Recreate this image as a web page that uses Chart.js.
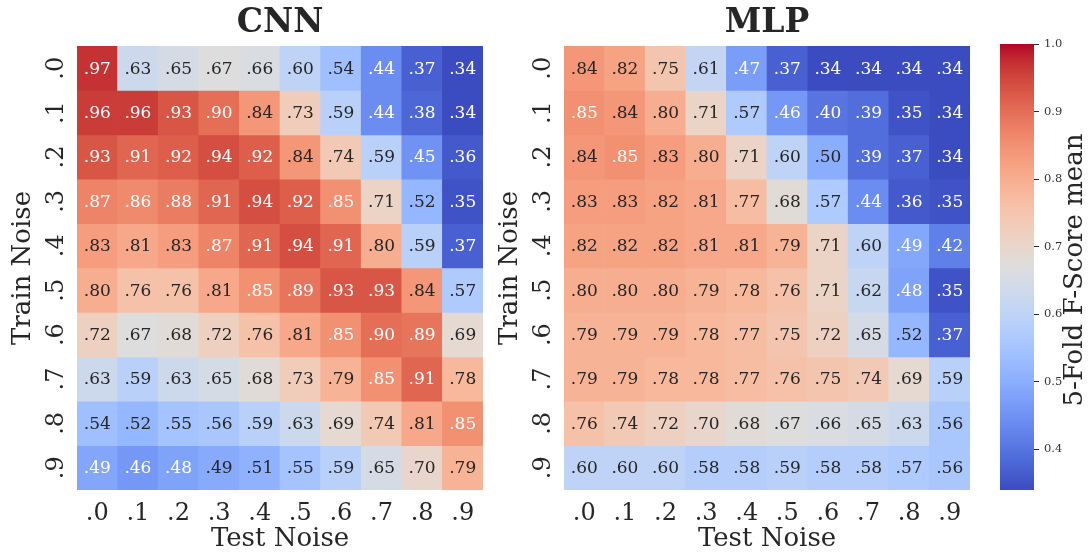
<!DOCTYPE html>
<html>
<head>
<meta charset="utf-8">
<script src="https://cdn.jsdelivr.net/npm/chart.js@4/dist/chart.umd.min.js"></script>
<style>
  html, body { margin: 0; padding: 0; background: #ffffff; }
  #wrap { position: relative; width: 1089px; height: 552px; overflow: hidden; background: #ffffff; }
  #wrap canvas { position: absolute; top: 0; }
</style>
</head>
<body>
<div id="wrap">
  <canvas id="cnn" width="500" height="552" style="left:0px"></canvas>
  <canvas id="mlp" width="500" height="552" style="left:487px"></canvas>
  <canvas id="cbar" width="99" height="552" style="left:990px"></canvas>
</div>
<script>
// Noise levels used for training (rows) and testing (columns)
const trainNoise = ['.0', '.1', '.2', '.3', '.4', '.5', '.6', '.7', '.8', '.9'];
const testNoise  = ['.0', '.1', '.2', '.3', '.4', '.5', '.6', '.7', '.8', '.9'];

// 5-fold mean F-score, one row per training noise level
const cnnScores = [
  [0.97, 0.63, 0.65, 0.67, 0.66, 0.60, 0.54, 0.44, 0.37, 0.34],
  [0.96, 0.96, 0.93, 0.90, 0.84, 0.73, 0.59, 0.44, 0.38, 0.34],
  [0.93, 0.91, 0.92, 0.94, 0.92, 0.84, 0.74, 0.59, 0.45, 0.36],
  [0.87, 0.86, 0.88, 0.91, 0.94, 0.92, 0.85, 0.71, 0.52, 0.35],
  [0.83, 0.81, 0.83, 0.87, 0.91, 0.94, 0.91, 0.80, 0.59, 0.37],
  [0.80, 0.76, 0.76, 0.81, 0.85, 0.89, 0.93, 0.93, 0.84, 0.57],
  [0.72, 0.67, 0.68, 0.72, 0.76, 0.81, 0.85, 0.90, 0.89, 0.69],
  [0.63, 0.59, 0.63, 0.65, 0.68, 0.73, 0.79, 0.85, 0.91, 0.78],
  [0.54, 0.52, 0.55, 0.56, 0.59, 0.63, 0.69, 0.74, 0.81, 0.85],
  [0.486, 0.46, 0.48, 0.493, 0.51, 0.55, 0.59, 0.65, 0.70, 0.79]
];

const mlpScores = [
  [0.84, 0.82, 0.75, 0.61, 0.47, 0.37, 0.34, 0.34, 0.34, 0.34],
  [0.85, 0.84, 0.80, 0.71, 0.57, 0.46, 0.40, 0.39, 0.35, 0.34],
  [0.84, 0.85, 0.83, 0.80, 0.71, 0.60, 0.50, 0.39, 0.37, 0.34],
  [0.83, 0.83, 0.82, 0.81, 0.77, 0.68, 0.57, 0.44, 0.36, 0.35],
  [0.82, 0.82, 0.82, 0.81, 0.81, 0.79, 0.71, 0.60, 0.487, 0.42],
  [0.80, 0.80, 0.80, 0.79, 0.78, 0.76, 0.71, 0.62, 0.48, 0.35],
  [0.79, 0.79, 0.79, 0.78, 0.77, 0.75, 0.72, 0.65, 0.52, 0.37],
  [0.79, 0.79, 0.78, 0.78, 0.77, 0.76, 0.75, 0.74, 0.69, 0.59],
  [0.76, 0.74, 0.72, 0.70, 0.68, 0.67, 0.66, 0.65, 0.63, 0.56],
  [0.60, 0.60, 0.60, 0.58, 0.58, 0.59, 0.58, 0.58, 0.57, 0.56]
];

// Colour bar tick values
const colorbarTicks = [0.4, 0.5, 0.6, 0.7, 0.8, 0.9, 1.0];

const scoreMin = Math.min(...cnnScores.flat(), ...mlpScores.flat());
const scoreMax = 1.0;

const ink = '#262626';
const serif = "'DejaVu Serif', 'Liberation Serif', serif";
Chart.defaults.font.family = serif;

// Diverging blue-white-red colour map (coolwarm), 33 evenly spaced stops
const coolwarm = [
  [0.2298057, 0.298717966, 0.753683153], [0.26623388, 0.353094838, 0.801466763],
  [0.30386891, 0.406535296, 0.84495867], [0.342804478, 0.458757618, 0.883725899],
  [0.38301334, 0.50941904, 0.917387822], [0.424369608, 0.558148092, 0.945619588],
  [0.46666708, 0.604562568, 0.968154911], [0.509635204, 0.648280772, 0.98478814],
  [0.552953156, 0.688929332, 0.995375608], [0.596262162, 0.726149107, 0.999836203],
  [0.639176211, 0.759599947, 0.998151185], [0.681291281, 0.788964712, 0.990363227],
  [0.722193294, 0.813952739, 0.976574709], [0.761464949, 0.834302879, 0.956945269],
  [0.798691636, 0.849786142, 0.931688648], [0.833466556, 0.860207984, 0.901068838],
  [0.865395197, 0.86541021, 0.865395561], [0.897787179, 0.848937047, 0.820880546],
  [0.924127593, 0.827384882, 0.774508472], [0.944468518, 0.800927443, 0.726736146],
  [0.958852946, 0.769767752, 0.678007945], [0.96732803, 0.734132809, 0.628751763],
  [0.969954137, 0.694266682, 0.579375448], [0.966811177, 0.650421156, 0.530263762],
  [0.958003065, 0.602842431, 0.481775914], [0.943660866, 0.551750968, 0.434243684],
  [0.923944917, 0.49730856, 0.387970225], [0.89904617, 0.439559467, 0.343229596],
  [0.869186849, 0.378313092, 0.300267182], [0.834620542, 0.312874446, 0.259301199],
  [0.795631745, 0.24128379, 0.220525627], [0.752534934, 0.157246067, 0.184115123],
  [0.705673158, 0.01555616, 0.150232812]
];

function mapColor(t) {
  t = Math.max(0, Math.min(1, t));
  const pos = t * (coolwarm.length - 1);
  const i = Math.min(Math.floor(pos), coolwarm.length - 2);
  const f = pos - i;
  const a = coolwarm[i], b = coolwarm[i + 1];
  const c = a.map((v, k) => Math.round((v + (b[k] - v) * f) * 255));
  return `rgb(${c[0]},${c[1]},${c[2]})`;
}

function scoreColor(v) {
  return mapColor((v - scoreMin) / (scoreMax - scoreMin));
}

// Light text on the saturated ends of the map, dark text elsewhere
function textColor(v) {
  return (v >= 0.845 || v < 0.49) ? '#ffffff' : ink;
}

function fmt(v) {
  return v.toFixed(2).replace(/^0/, '');
}

// Writes each cell's score in the middle of its bar
const cellLabels = {
  id: 'cellLabels',
  afterDatasetsDraw(chart) {
    const ctx = chart.ctx;
    ctx.save();
    ctx.font = `17px ${serif}`;
    ctx.textAlign = 'center';
    ctx.textBaseline = 'middle';
    chart.data.datasets.forEach((ds, r) => {
      const meta = chart.getDatasetMeta(r);
      meta.data.forEach((bar, c) => {
        const v = ds.values[c];
        const p = bar.getCenterPoint();
        ctx.fillStyle = textColor(v);
        ctx.fillText(fmt(v), p.x, p.y + 1);
      });
    });
    ctx.restore();
  }
};

function heatmap(id, title, scores) {
  return new Chart(document.getElementById(id), {
    type: 'bar',
    data: {
      labels: testNoise,
      datasets: trainNoise.map((name, r) => ({
        label: name,
        data: testNoise.map(() => [r, r + 1]),
        values: scores[r],
        backgroundColor: scores[r].map(scoreColor),
        borderWidth: 0,
        grouped: false,
        categoryPercentage: 1,
        barPercentage: 1
      }))
    },
    options: {
      responsive: false,
      animation: false,
      events: [],
      layout: { padding: { top: 0, right: 17, bottom: 0, left: 0 } },
      plugins: {
        legend: { display: false },
        tooltip: { enabled: false },
        title: {
          display: true,
          text: title,
          fullSize: false,
          color: ink,
          font: { size: 33, weight: 'bold', lineHeight: 1.2 },
          padding: { top: 4, bottom: 2.4 }
        }
      },
      scales: {
        x: {
          type: 'category',
          position: 'bottom',
          grid: { display: false, drawTicks: false },
          border: { display: false },
          ticks: { color: ink, font: { size: 24 }, padding: 9, maxRotation: 0, autoSkip: false },
          title: { display: true, text: 'Test Noise', color: ink, font: { size: 26, lineHeight: 1 }, padding: { top: 0, bottom: 0 } },
          afterFit: s => { s.height = 62; }
        },
        y: {
          type: 'linear',
          min: 0,
          max: trainNoise.length,
          reverse: true,
          grid: { display: false, drawTicks: false },
          border: { display: false },
          afterBuildTicks: s => { s.ticks = trainNoise.map((_, i) => ({ value: i + 0.5 })); },
          ticks: {
            color: ink,
            font: { size: 24 },
            padding: 9,
            minRotation: 90,
            maxRotation: 90,
            crossAlign: 'center',
            autoSkip: false,
            callback: v => trainNoise[Math.floor(v)]
          },
          title: { display: true, text: 'Train Noise', color: ink, font: { size: 26, lineHeight: 1 }, padding: { top: 10, bottom: 0 } },
          afterFit: s => { s.width = 77; }
        }
      }
    },
    plugins: [cellLabels]
  });
}

heatmap('cnn', 'CNN', cnnScores);
heatmap('mlp', 'MLP', mlpScores);

// Colour bar: one floating bar spanning the score range, filled with the map
const colorbarTitle = {
  id: 'colorbarTitle',
  afterDraw(chart) {
    const { ctx, chartArea } = chart;
    ctx.save();
    ctx.translate(85, (chartArea.top + chartArea.bottom) / 2 + 3);
    ctx.rotate(-Math.PI / 2);
    ctx.font = `26px ${serif}`;
    ctx.fillStyle = ink;
    ctx.textAlign = 'center';
    ctx.textBaseline = 'middle';
    ctx.fillText('5-Fold F-Score mean', 0, 0);
    ctx.restore();
  }
};

new Chart(document.getElementById('cbar'), {
  type: 'bar',
  data: {
    labels: [''],
    datasets: [{
      data: [[scoreMin, scoreMax]],
      backgroundColor: (c) => {
        const area = c.chart.chartArea;
        if (!area) return mapColor(0.5);
        const g = c.chart.ctx.createLinearGradient(0, area.bottom, 0, area.top);
        coolwarm.forEach((_, i) => {
          const t = i / (coolwarm.length - 1);
          g.addColorStop(t, mapColor(t));
        });
        return g;
      },
      borderWidth: 0,
      categoryPercentage: 1,
      barPercentage: 1
    }]
  },
  options: {
    responsive: false,
    animation: false,
    events: [],
    layout: { padding: { top: 44, bottom: 62, left: 10, right: 0 } },
    plugins: { legend: { display: false }, tooltip: { enabled: false } },
    scales: {
      x: { display: false },
      y: {
        position: 'right',
        min: scoreMin,
        max: scoreMax,
        afterBuildTicks: s => { s.ticks = colorbarTicks.map(v => ({ value: v })); },
        grid: { drawOnChartArea: false, drawTicks: true, tickLength: 5, color: ink, lineWidth: 1 },
        border: { display: false },
        ticks: { color: '#333333', font: { size: 11.5 }, padding: 5, callback: v => v.toFixed(1) },
        afterFit: s => { s.width = 55; }
      }
    }
  },
  plugins: [colorbarTitle]
});
</script>
</body>
</html>
